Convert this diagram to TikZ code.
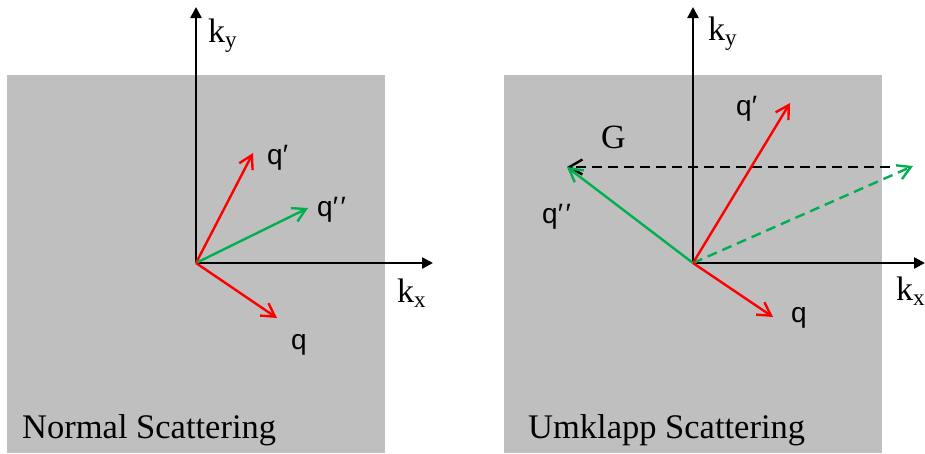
\documentclass[tikz,border=0pt]{standalone}
\usepackage{fontspec}
\setmainfont{Liberation Serif}
\newfontfamily\lsans{Liberation Sans}
\usetikzlibrary{arrows.meta}
\definecolor{panelgray}{HTML}{BFBFBF}
\definecolor{vred}{HTML}{FF0000}
\definecolor{vgreen}{HTML}{00B050}
\newcommand{\ksub}[1]{k\raisebox{-5pt}{\fontsize{23}{23}\selectfont #1}}
\newcommand{\pp}{′\kern2.5pt′}
\tikzset{
  panel/.style={fill=panelgray, draw=none},
  axis/.style={line width=2.4pt, black, -{Triangle[length=11pt,width=11pt]}},
  vec/.style={line width=2.4pt, -{Straight Barb[length=13pt,width=15pt,line width=2.4pt]}},
  redvec/.style={vec, vred},
  greenvec/.style={vec, vgreen},
  dashvec/.style={vec, dash pattern=on 10pt off 6pt},
  axlabel/.style={anchor=base west, inner sep=0pt, font=\fontsize{34}{34}\selectfont},
  qlabel/.style={anchor=base west, inner sep=0pt, font=\lsans\fontsize{28}{28}\selectfont},
  title/.style={anchor=base west, inner sep=0pt, font=\fontsize{34.5}{34.5}\selectfont},
}
\begin{document}
\begin{tikzpicture}[x=1pt,y=-1pt]
\useasboundingbox (0,0) rectangle (925,453);
% ---------- left panel ----------
\fill[panel] (7,75) rectangle (385,453);
\coordinate (O1) at (196,263);
\coordinate (Y1) at (196,7);
\coordinate (X1) at (433,263);
\coordinate (Q1) at (277,318);
\coordinate (QP1) at (253,153);
\coordinate (QPP1) at (308,208);
\draw[axis] (O1) -- (Y1);
\draw[axis] (O1) -- (X1);
\draw[redvec] (O1) -- (QP1);
\draw[greenvec] (O1) -- (QPP1);
\draw[redvec] (O1) -- (Q1);
\node[axlabel] (ky1) at (208,42) {\ksub{y}};
\node[axlabel] (kx1) at (397,302) {\ksub{x}};
\node[qlabel] (lqp1) at (267,164) {q′};
\node[qlabel] (lqpp1) at (317,216) {q\pp};
\node[qlabel] (lq1) at (291,349) {q};
\node[title] (t1) at (22,438) {Normal Scattering};
% ---------- right panel ----------
\fill[panel] (504,75) rectangle (882,453);
\coordinate (O2) at (693,263);
\coordinate (Y2) at (693,7);
\coordinate (X2) at (925,263);
\coordinate (Q2) at (773,317);
\coordinate (QP2) at (790,103);
\coordinate (QPP2) at (567,167);
\coordinate (GS) at (890,167);
\coordinate (QN2) at (913,166);
\draw[axis] (O2) -- (Y2);
\draw[axis] (O2) -- (X2);
\draw[dashvec, black] (GS) -- (QPP2);
\draw[dashvec, vgreen] (O2) -- (QN2);
\draw[redvec] (O2) -- (QP2);
\draw[greenvec] (O2) -- (QPP2);
\draw[redvec] (O2) -- (Q2);
\node[axlabel] (ky2) at (708,40) {\ksub{y}};
\node[axlabel] (kx2) at (896,300) {\ksub{x}};
\node[qlabel] (lqp2) at (736,115) {q′};
\node[axlabel] (lg2) at (601,148) {G};
\node[qlabel] (lqpp2) at (542,223) {q\pp};
\node[qlabel] (lq2) at (791,322) {q};
\node[title] (t2) at (528,438) {Umklapp Scattering};
\end{tikzpicture}
\end{document}
